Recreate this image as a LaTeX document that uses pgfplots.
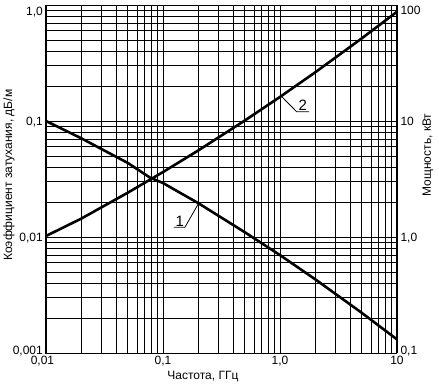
\documentclass[border=0pt]{standalone}
\usepackage{pgfplots}
\pgfplotsset{compat=1.18}
\usepackage{fontspec}
\setmainfont{Liberation Sans}
\newcommand{\lbl}[2]{\smash{\raisebox{#1}{#2}}}
\begin{document}
\begin{tikzpicture}
\begin{axis}[name=main,
  scale only axis, width=351pt, height=348pt,
  xmode=log, ymode=log, xmin=0.01, xmax=10,
  ymin=0.001, ymax=1,
  major tick length=0pt, minor tick length=0pt,
  tick label style={font=\fontsize{12}{14}\selectfont},
  label style={font=\fontsize{12}{14}\selectfont},
  axis line style={black, line width=1pt},
  grid=both,
  major grid style={black, line width=0.75pt},
  minor grid style={black, line width=0.75pt},
  xtick={0.01,0.1,1,10},
  xticklabels={{\hspace*{-7pt}0,01},{0,1},{1,0},{10}},
  minor xtick={0.02,0.03,0.04,0.05,0.06,0.07,0.08,0.09,0.2,0.3,0.4,0.5,0.6,0.7,0.8,0.9,2,3,4,5,6,7,8,9},
  ytick={0.001,0.01,0.1,1},
  minor ytick={0.002,0.003,0.004,0.005,0.006,0.007,0.008,0.009,0.02,0.03,0.04,0.05,0.06,0.07,0.08,0.09,0.2,0.3,0.4,0.5,0.6,0.7,0.8,0.9},
  yticklabels={{\lbl{-1.3pt}{0,001}},{\lbl{-4.3pt}{0,01}},{\lbl{-4.3pt}{0,1}},{\lbl{-10.3pt}{1,0}}},
  yticklabel style={inner sep=1pt, xshift=-2pt},
  xlabel={Частота, ГГц},
  xlabel style={at={(axis description cs:0.447,0)}, anchor=north, yshift=-14.7pt},
  ylabel={Коэффициент затухания, дБ/м},
  ylabel style={at={(axis description cs:-0.1054,0.511)}, anchor=center},
]
% curve 1: attenuation
\addplot[black, line width=2.6pt] coordinates {
(0.01,0.1) (0.02,0.0710) (0.05,0.0435) (0.0775,0.0325) (0.1,0.0292) (0.2,0.0196)
(0.5,0.0110) (1,0.00698) (2,0.00432) (5,0.00222) (10,0.00131)
};
% curve 2: power (left-axis units, x100 = kW)
\addplot[black, line width=2.6pt] coordinates {
(0.01,0.0102) (0.02,0.0144) (0.05,0.0241) (0.1,0.0363) (0.2,0.0557)
(0.5,0.1009) (1,0.1613) (2,0.2628) (5,0.5157) (10,0.875)
};
\draw[line width=0.8pt] (axis cs:0.202,0.0196) -- (axis cs:0.154,0.01214) -- (axis cs:0.124,0.01214);
\node[anchor=south, inner sep=1pt, font=\fontsize{15}{17}\selectfont] at (axis cs:0.139,0.01214) {1};
\draw[line width=0.8pt] (axis cs:1.03,0.163) -- (axis cs:1.39,0.120) -- (axis cs:1.77,0.120);
\node[anchor=south, inner sep=1pt, font=\fontsize{15}{17}\selectfont] at (axis cs:1.57,0.120) {2};
\end{axis}
\begin{axis}[
  scale only axis, width=351pt, height=348pt,
  xmode=log, ymode=log, xmin=0.01, xmax=10,
  ymin=0.1, ymax=100,
  major tick length=0pt, minor tick length=0pt,
  tick label style={font=\fontsize{12}{14}\selectfont},
  label style={font=\fontsize{12}{14}\selectfont},
  axis line style={black, line width=1pt},
  axis x line=none, axis y line*=right,
  ytick={0.1,1,10,100},
  yticklabels={{\lbl{-1.3pt}{0,1}},{\lbl{-4.3pt}{1,0}},{\lbl{-4.3pt}{10}},{\lbl{-9.3pt}{100}}},
  ylabel={Мощность, кВт},
  ylabel style={at={(axis description cs:1.088,0.569)}, anchor=center},
]
\addplot[draw=none] coordinates {(1,1)};
\end{axis}
\pgfresetboundingbox
\path ([xshift=-46pt,yshift=-33pt]main.south west) rectangle ([xshift=42pt,yshift=5pt]main.north east);
\end{tikzpicture}
\end{document}
